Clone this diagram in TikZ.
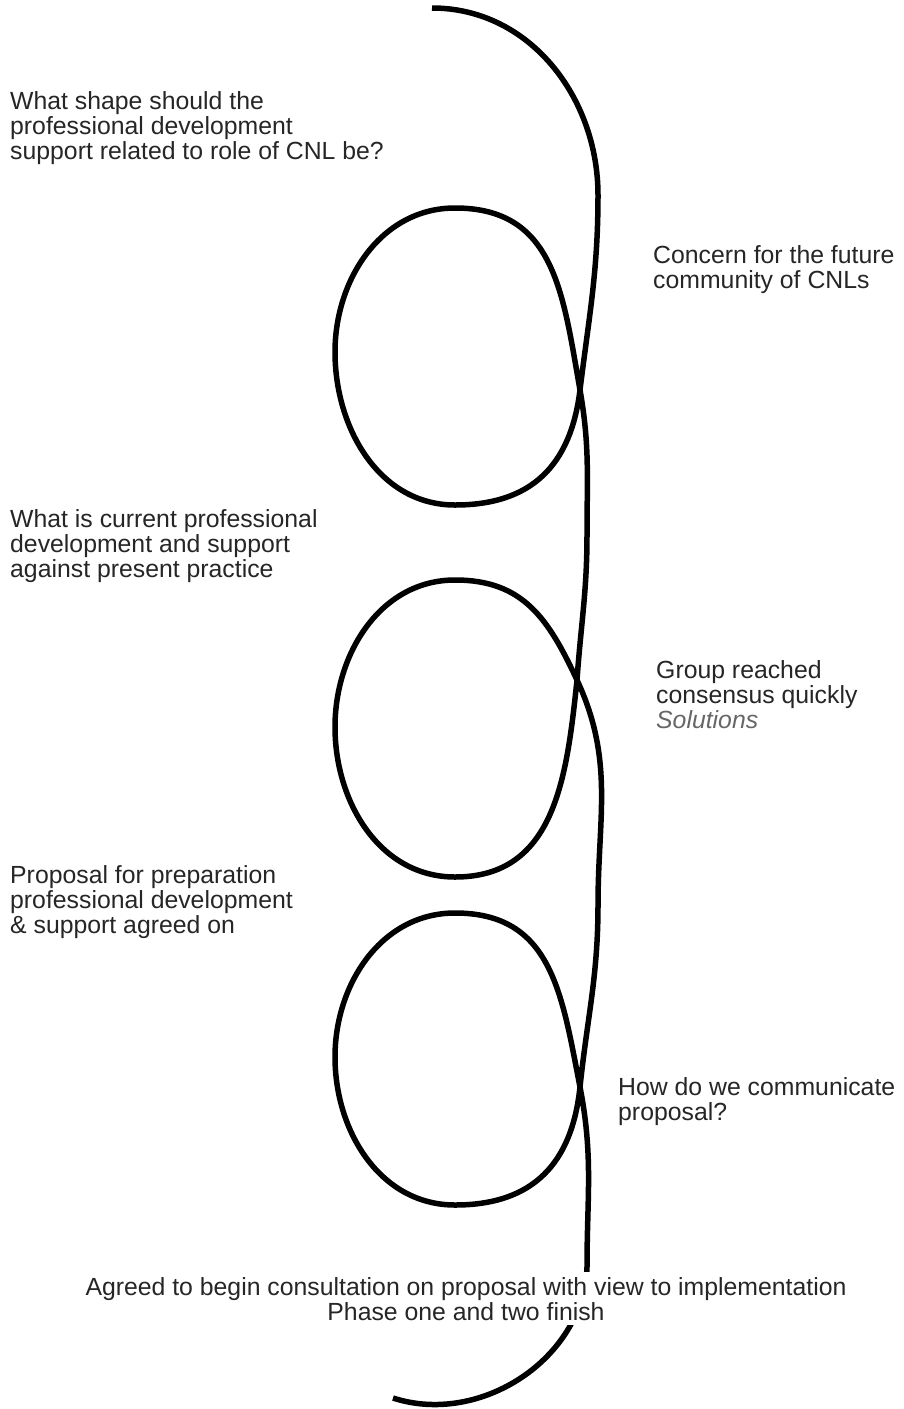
\documentclass[tikz,border=0pt]{standalone}
\usepackage{fontspec}
\setmainfont{Liberation Sans}
\usepackage{tikz}

\begin{document}
\begin{tikzpicture}[x=1pt,y=1pt,
    lbl/.style={anchor=base west,align=left,inner sep=0pt,text=black!85,
      font=\fontsize{24.8}{25}\selectfont},
    strand/.style={line width=5.5pt,line cap=butt}]
  \useasboundingbox[fill=white] (0,0) rectangle (903,-1409);
  % points of the line
  \coordinate (s) at (432,-8);
  \coordinate (r1) at (598,-195);
  \coordinate (x1) at (580,-390);
  \coordinate (b1) at (455,-505);
  \coordinate (l1) at (335,-352);
  \coordinate (t1) at (455,-208);
  \coordinate (m1) at (587,-535);
  \coordinate (x2) at (577,-680);
  \coordinate (b2) at (455,-877);
  \coordinate (l2) at (335,-727);
  \coordinate (t2) at (455,-580);
  \coordinate (m2) at (598,-905);
  \coordinate (x3) at (580,-1087);
  \coordinate (b3) at (455,-1205);
  \coordinate (l3) at (335,-1057);
  \coordinate (t3) at (455,-913);
  \coordinate (m3) at (587,-1267);
  \coordinate (e) at (393,-1398);
  \draw[strand] (s) to[out=0,in=90] (r1) to[out=-90,in=83] (x1)
    to[out=-97,in=0,looseness=1.15] (b1) to[out=180,in=-90] (l1) to[out=90,in=180] (t1)
    to[out=0,in=100,looseness=1.15] (x1) to[out=-80,in=90] (m1) to[out=-90,in=86] (x2)
    to[out=-96,in=0,looseness=1.1] (b2) to[out=180,in=-90] (l2) to[out=90,in=180] (t2)
    to[out=0,in=115,looseness=1.1] (x2) to[out=-65,in=90] (m2) to[out=-90,in=84] (x3)
    to[out=-96,in=0,looseness=1.15] (b3) to[out=180,in=-90] (l3) to[out=90,in=180] (t3)
    to[out=0,in=101,looseness=1.15] (x3) to[out=-79,in=90] (m3) to[out=-92,in=-18] (e);
  % texts
  \node (q1) [lbl] at (10,-159) {What shape should the\\professional development\\support related to role of CNL be?};
  \node (q2) [lbl] at (653,-288) {Concern for the future\\community of CNLs};
  \node (q3) [lbl] at (10,-577) {What is current professional\\development and support\\against present practice};
  \node (q4) [lbl] at (656,-728) {Group reached\\consensus quickly\\{\itshape\color{black!60}Solutions}};
  \node (q5) [lbl] at (10,-933) {Proposal for preparation\\professional development\\\& support agreed on};
  \node (q6) [lbl] at (618,-1120) {How do we communicate\\proposal?};
  \node (q7) [lbl,anchor=base,align=center,fill=white,inner ysep=5pt,inner xsep=2pt] at (466,-1320) {Agreed to begin consultation on proposal with view to implementation\\Phase one and two finish};
\end{tikzpicture}
\end{document}
